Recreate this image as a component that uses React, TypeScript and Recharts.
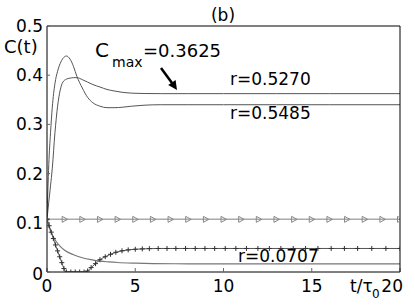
import { Line, LineChart, XAxis, YAxis } from 'recharts';

// time grid shared by the two oscillating curves
const tRise = [0, 0.1, 0.2, 0.3, 0.45, 0.6, 0.75, 0.9, 1.1, 1.3, 1.5, 1.7, 2.0, 2.3, 2.6, 3.0, 3.4, 3.8, 4.3, 4.8, 5.5, 6.5, 8, 10, 13, 16, 20];
const c5485 = [0.107, 0.218, 0.283, 0.335, 0.383, 0.408, 0.424, 0.434, 0.439, 0.433, 0.418, 0.397, 0.374, 0.355, 0.344, 0.337, 0.334, 0.334, 0.335, 0.337, 0.339, 0.34, 0.34, 0.34, 0.34, 0.34, 0.34];
const c5270 = [0.107, 0.142, 0.175, 0.211, 0.283, 0.337, 0.37, 0.386, 0.392, 0.394, 0.395, 0.395, 0.391, 0.386, 0.381, 0.376, 0.371, 0.368, 0.365, 0.3635, 0.3628, 0.3625, 0.3625, 0.3625, 0.3625, 0.3625, 0.3625];

// r = 0.0707, plain decaying curve
const tDecay = [0, 0.1, 0.2, 0.35, 0.5, 0.75, 1.0, 1.5, 2.0, 2.5, 3.0, 3.5, 4.0, 5.0, 6.0, 8.0, 12, 20];
const c0707 = [0.107, 0.094, 0.084, 0.072, 0.063, 0.052, 0.044, 0.035, 0.029, 0.025, 0.022, 0.0205, 0.0193, 0.018, 0.0172, 0.0167, 0.0165, 0.0165];

// curve drawn with + markers
const tCross = [0, 0.12, 0.24, 0.36, 0.48, 0.6, 0.72, 0.84, 0.96, 1.1, 1.35, 1.6, 1.85, 2.1, 2.3, 2.5, 2.75, 3.0, 3.3, 3.6, 3.9, 4.25, 4.6, 5.0, 5.4, 5.8, 6.3, 6.8, 7.3, 7.85, 8.4, 8.95, 9.5, 10.1, 10.7, 11.3, 11.95, 12.6, 13.25, 13.95, 14.65, 15.35, 16.1, 16.85, 17.6, 18.4, 19.2, 20];
const cCross = [0.107, 0.094, 0.081, 0.068, 0.055, 0.043, 0.031, 0.019, 0.007, 0, 0, 0, 0, 0, 0.002, 0.009, 0.017, 0.025, 0.031, 0.036, 0.04, 0.043, 0.045, 0.0462, 0.047, 0.0475, 0.0478, 0.0478, 0.0478, 0.0478, 0.0478, 0.0478, 0.0478, 0.0478, 0.0478, 0.0478, 0.0478, 0.0478, 0.0478, 0.0478, 0.0478, 0.0478, 0.0478, 0.0478, 0.0478, 0.0478, 0.0478, 0.0478];

// flat curve drawn with triangle markers
const tTri = [0, 1, 2, 3, 4, 5, 6, 7, 8, 9, 10, 11, 12, 13, 14, 15, 16, 17, 18, 19, 20];
const cTri = [0.107, 0.107, 0.107, 0.107, 0.107, 0.107, 0.107, 0.107, 0.107, 0.107, 0.107, 0.107, 0.107, 0.107, 0.107, 0.107, 0.107, 0.107, 0.107, 0.107, 0.107];

const xTicks = [0, 5, 10, 15, 20];
const yTicks = [0, 0.1, 0.2, 0.3, 0.4, 0.5];
const yTickLabels = ['0', '0.1', '0.2', '0.3', '0.4', '0.5'];

const toRows = (ts: number[], cs: number[]) => ts.map((t, i) => ({ t, c: cs[i] }));

const rows5485 = toRows(tRise, c5485);
const rows5270 = toRows(tRise, c5270);
const rows0707 = toRows(tDecay, c0707);
const rowsCross = toRows(tCross, cCross);
const rowsTri = toRows(tTri, cTri);

const FONT = '"DejaVu Sans", Arial, sans-serif';

const XTick = (props: any) => {
  const { x, y, payload } = props;
  const v = payload.value;
  return (
    <text x={v === 20 ? x + 3 : x} y={y + 16} textAnchor={v === 20 ? 'end' : 'middle'} fontSize={17} fill="#000" fontFamily={FONT}>
      {String(v)}
    </text>
  );
};

const YTick = (props: any) => {
  const { x, y, index } = props;
  return (
    <text x={x} y={y + (index === 0 ? 8 : 6)} textAnchor="end" fontSize={17} fill="#000" fontFamily={FONT}>
      {yTickLabels[index]}
    </text>
  );
};

const triangleDot = (props: any) => {
  const { cx, cy, index } = props;
  return (
    <path
      key={`tri-${index}`}
      d={`M${cx - 2.5},${cy - 3} L${cx + 3},${cy} L${cx - 2.5},${cy + 3} Z`}
      fill="none"
      stroke="#888"
      strokeWidth={1}
    />
  );
};

const plusDot = (props: any) => {
  const { cx, cy, index } = props;
  return (
    <path
      key={`plus-${index}`}
      d={`M${cx - 2.5},${cy} L${cx + 2.5},${cy} M${cx},${cy - 2.5} L${cx},${cy + 2.5}`}
      stroke="#333"
      strokeWidth={1}
    />
  );
};

export default function App() {
  return (
    <div style={{ position: 'absolute', left: 0, top: 0, width: 415, height: 305, background: '#fff', fontFamily: FONT }}>
      <LineChart width={415} height={305} margin={{ top: 25, right: 14, bottom: 32, left: 46 }}>
        <XAxis
          xAxisId="bottom"
          dataKey="t"
          type="number"
          domain={[0, 20]}
          ticks={xTicks}
          height={1}
          tickSize={-4}
          tickMargin={8}
          tick={<XTick />}
          axisLine={{ stroke: '#000' }}
          tickLine={{ stroke: '#666' }}
          allowDataOverflow
        />
        <XAxis
          xAxisId="top"
          orientation="top"
          type="number"
          domain={[0, 20]}
          ticks={xTicks}
          height={1}
          tickSize={-3}
          tick={false}
          axisLine={{ stroke: '#000' }}
          tickLine={{ stroke: '#666' }}
        />
        <YAxis
          yAxisId="left"
          type="number"
          domain={[0, 0.5]}
          ticks={yTicks}
          width={1}
          tickSize={-3}
          tickMargin={7}
          tick={<YTick />}
          axisLine={{ stroke: '#000' }}
          tickLine={{ stroke: '#666' }}
          allowDataOverflow
        />
        <YAxis
          yAxisId="right"
          orientation="right"
          type="number"
          domain={[0, 0.5]}
          ticks={yTicks}
          width={1}
          tickSize={-3}
          tick={false}
          axisLine={{ stroke: '#000' }}
          tickLine={{ stroke: '#666' }}
        />

        <Line xAxisId="bottom" yAxisId="left" data={rowsTri} dataKey="c" type="linear" stroke="#aaa" strokeWidth={1.5} dot={triangleDot} activeDot={false} isAnimationActive={false} />
        <Line xAxisId="bottom" yAxisId="left" data={rows0707} dataKey="c" type="monotone" stroke="#777" strokeWidth={1.2} dot={false} activeDot={false} isAnimationActive={false} />
        <Line xAxisId="bottom" yAxisId="left" data={rowsCross} dataKey="c" type="monotone" stroke="#555" strokeWidth={1} dot={plusDot} activeDot={false} isAnimationActive={false} />
        <Line xAxisId="bottom" yAxisId="left" data={rows5485} dataKey="c" type="monotone" stroke="#555" strokeWidth={1} dot={false} activeDot={false} isAnimationActive={false} />
        <Line xAxisId="bottom" yAxisId="left" data={rows5270} dataKey="c" type="monotone" stroke="#555" strokeWidth={1} dot={false} activeDot={false} isAnimationActive={false} />

        <text x={223} y={21} textAnchor="middle" fontSize={17} fontFamily={FONT} fill="#000">(b)</text>
        <text x={4} y={53} fontSize={18} fontFamily={FONT} fill="#000">C(t)</text>

        <text x={95} y={57} fontSize={20} fontFamily={FONT} fill="#000">C</text>
        <text x={112} y={67} fontSize={14} fontFamily={FONT} fill="#000">max</text>
        <text x={143} y={57} fontSize={18} fontFamily={FONT} fill="#000">=0.3625</text>
        <line x1={161} y1={68} x2={172} y2={83} stroke="#000" strokeWidth={2.5} />
        <polygon points="177,90 175.6,80.1 168.2,85.1" fill="#000" />

        <text x={230} y={85} fontSize={17} fontFamily={FONT} fill="#000">r=0.5270</text>
        <text x={230} y={119} fontSize={17} fontFamily={FONT} fill="#000">r=0.5485</text>
        <text x={238} y={262} fontSize={17} fontFamily={FONT} fill="#000">r=0.0707</text>

        <text x={350} y={292} fontSize={17} fontFamily={FONT} fill="#000">t/τ</text>
        <text x={372} y={298} fontSize={12} fontFamily={FONT} fill="#000">0</text>
      </LineChart>
    </div>
  );
}
